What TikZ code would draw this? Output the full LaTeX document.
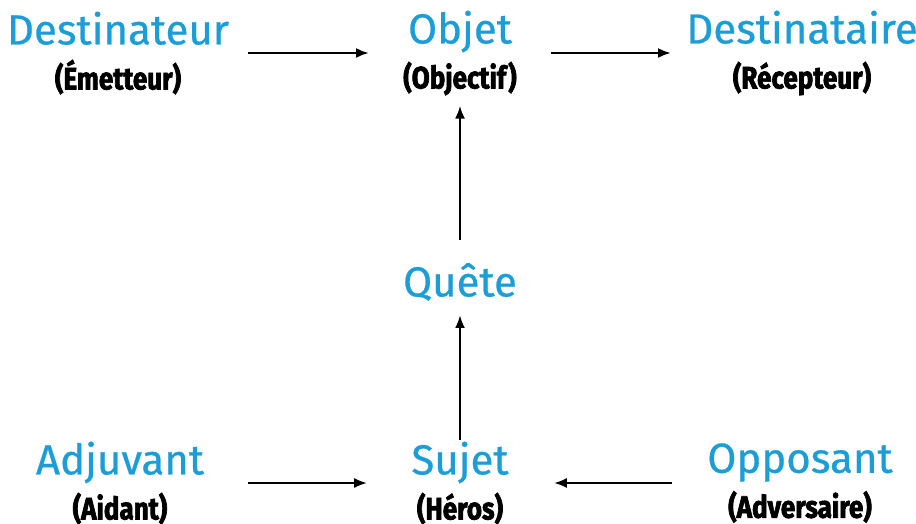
\documentclass[tikz,border=0pt]{standalone}
\usepackage{fontspec}
\usepackage{xcolor}
\usetikzlibrary{arrows.meta,positioning}
\setmainfont{Fira Sans}
\newfontfamily\titrefont[FakeBold=0.6]{Fira Sans}
\newfontfamily\sousfont[FakeStretch=0.84,FakeBold=2.2]{Fira Sans}

\definecolor{bleutitre}{RGB}{27,157,216}

\newcommand{\titre}[1]{{\titrefont\fontsize{42}{46}\selectfont\color{bleutitre}#1}}
\newcommand{\sous}[1]{{\sousfont\bfseries\fontsize{31}{46}\selectfont #1}}

\begin{document}
\begin{tikzpicture}[x=1pt,y=-1pt]

\useasboundingbox (0,0) rectangle (916,524);

\tikzstyle{actant} = [align=center, inner sep=0pt, font=\fontsize{31}{45}\selectfont]
\tikzstyle{fleche} = [line width=2.6pt, -{Latex[length=13pt,width=10pt]}]

% axe de la communication
\node (dest) [actant] at (118,53) {\titre{Destinateur}\\\sous{(Émetteur)}};
\node (objet) [actant] at (460,53) {\titre{Objet}\\\sous{(Objectif)}};
\node (destre) [actant] at (802,53) {\titre{Destinataire}\\\sous{(Récepteur)}};

% axe du désir
\node (quete) [actant] at (460,282) {\titre{Quête}};

% axe du pouvoir
\node (adj) [actant] at (120,483) {\titre{Adjuvant}\\\sous{(Aidant)}};
\node (sujet) [actant] at (460,483) {\titre{Sujet}\\\sous{(Héros)}};
\node (opp) [actant] at (800,483) {\titre{Opposant}\\\sous{(Adversaire)}};

\draw[fleche, shorten <=19pt, shorten >=34pt] (dest) -- (objet);
\draw[fleche, shorten <=34pt, shorten >=15pt] (objet) -- (destre);
\draw[fleche, shorten <=23pt, shorten >=10pt] (quete) -- (objet);
\draw[fleche, shorten <=1pt, shorten >=14pt] (sujet) -- (quete);
\draw[fleche, shorten <=44pt, shorten >=44pt] (adj) -- (sujet);
\draw[fleche, shorten <=35pt, shorten >=45pt] (opp) -- (sujet);

\end{tikzpicture}
\end{document}
